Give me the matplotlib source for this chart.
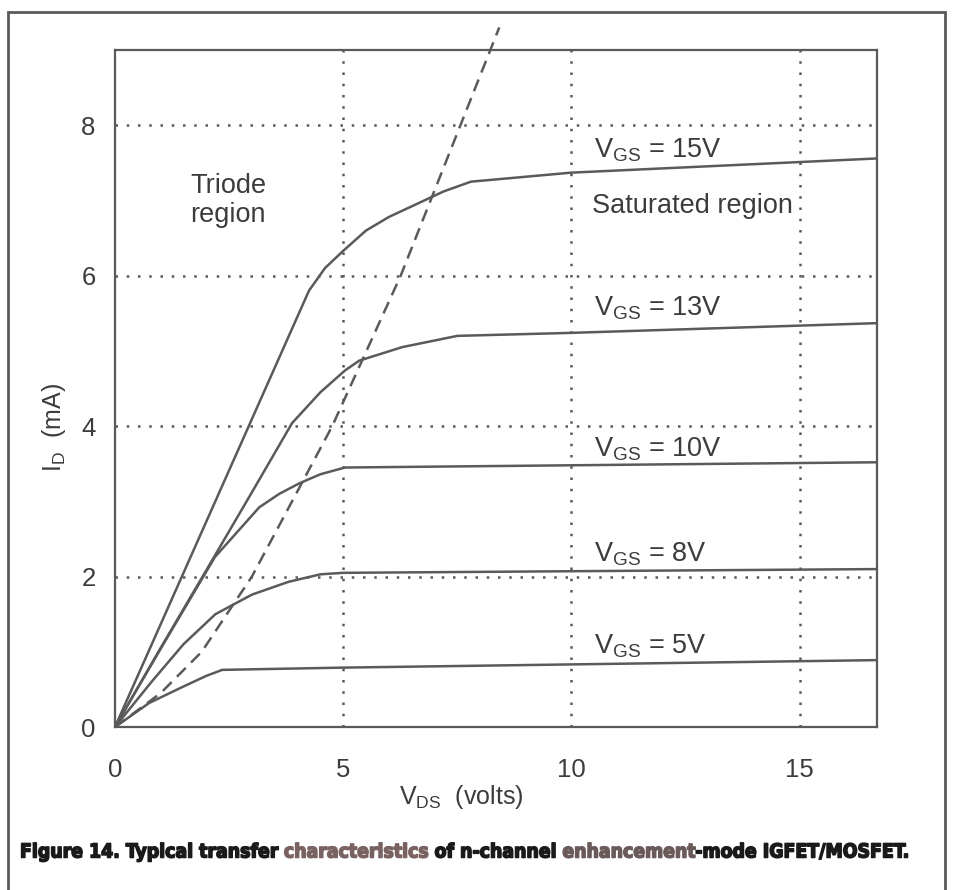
import numpy as np
import matplotlib
matplotlib.use("Agg")
import matplotlib.pyplot as plt
import matplotlib.patheffects as pe
from matplotlib import font_manager as fm
from matplotlib.patches import Rectangle

plt.rcParams['font.family'] = ['Liberation Sans', 'DejaVu Sans']
plt.rcParams['mathtext.default'] = 'regular'

# drain current curves, I_D (mA) against V_DS (V), one per gate voltage
vds_15 = [0, 4.25, 4.6, 5.0, 5.5, 6.0, 6.6, 7.2, 7.8, 10.0, 16.75]
id_15 = [0, 5.80, 6.10, 6.33, 6.60, 6.78, 6.95, 7.12, 7.25, 7.37, 7.56]

vds_13 = [0, 1.0, 1.91, 3.0, 3.88, 4.5, 5.04, 5.35, 6.29, 7.5, 10.0, 16.75]
id_13 = [0, 1.05, 1.99, 3.12, 4.04, 4.45, 4.74, 4.87, 5.05, 5.20, 5.24, 5.37]

vds_10 = [0, 1.0, 2.19, 3.16, 3.6, 4.04, 4.5, 5.04, 16.75]
id_10 = [0, 1.04, 2.26, 2.92, 3.10, 3.24, 3.36, 3.45, 3.52]

vds_8 = [0, 0.8, 1.5, 2.2, 3.0, 3.8, 4.5, 5.0, 16.75]
id_8 = [0, 0.60, 1.10, 1.50, 1.76, 1.93, 2.03, 2.05, 2.10]

vds_5 = [0, 0.75, 1.47, 2.0, 2.35, 5.0, 16.75]
id_5 = [0, 0.32, 0.53, 0.68, 0.76, 0.79, 0.89]

# boundary between triode and saturated regions
vds_sat = [0, 1.0, 1.9, 3.0, 4.76, 6.26, 8.42]
id_sat = [0, 0.45, 1.0, 2.0, 4.0, 6.0, 9.3]

curves = [(vds_15, id_15), (vds_13, id_13), (vds_10, id_10),
          (vds_8, id_8), (vds_5, id_5)]
vgs_labels = ['15V', '13V', '10V', '8V', '5V']
label_y = [7.57, 5.47, 3.60, 2.20, 0.98]

xticks = [0, 5, 10, 15]
yticks = [0, 2, 4, 6, 8]

ink = '#3c3c3c'
line_col = '#5a5a5a'

fig = plt.figure(figsize=(9.54, 8.9), dpi=100)
ax = fig.add_axes([0.1205, 0.1831, 0.799, 0.7607])
ax.set_xlim(0, 16.7)
ax.set_ylim(0, 9)

for vx, iy in curves:
    ax.plot(vx, iy, color=line_col, lw=1.8, solid_joinstyle='round')
ax.plot(vds_sat, id_sat, color=line_col, lw=1.8, linestyle=(0, (5, 3)),
        clip_on=False)

for v in xticks[1:]:
    ax.axvline(v, color=line_col, lw=1.8, linestyle=(0, (1, 3.5)))
for v in yticks[1:]:
    ax.axhline(v, color=line_col, lw=1.8, linestyle=(0, (1, 3.5)))

ax.set_xticks(xticks)
ax.set_yticks(yticks)
ax.tick_params(length=0, labelsize=18.5, labelcolor=ink)
ax.tick_params(axis='x', pad=22)
ax.tick_params(axis='y', pad=14)
for s in ax.spines.values():
    s.set_color(line_col)
    s.set_linewidth(1.6)

ax.set_xlabel('V$_{DS}$  (volts)', fontsize=18, color=ink)
ax.xaxis.set_label_coords(0.454, -0.083)
ax.set_ylabel('I$_{D}$  (mA)', fontsize=18, color=ink)
ax.yaxis.set_label_coords(-0.062, 0.442)

for lab, y in zip(vgs_labels, label_y):
    ax.text(10.5, y, 'V$_{GS}$ = ' + lab, fontsize=19.5, color=ink,
            ha='left', va='baseline')

ax.text(2.48, 7.0, 'Triode\nregion', fontsize=19.5, color=ink,
        ha='center', va='center', multialignment='center', linespacing=1.15)
ax.text(10.46, 6.93, 'Saturated region', fontsize=19.5, color=ink,
        ha='left', va='center')

# outer frame, open below the bottom edge
fig.add_artist(Rectangle((0.0084, -0.05), 0.9822, 1.0365,
                         transform=fig.transFigure, fill=False,
                         edgecolor=line_col, lw=2.0))

# caption, some words printed in a lighter ink
names = {f.name for f in fm.fontManager.ttflist}
if 'Liberation Sans Narrow' in names:
    cap_font = dict(family='Liberation Sans Narrow', weight='bold')
else:
    cap_font = dict(family='DejaVu Sans', weight='bold', stretch='condensed')

parts = [('Figure 14. Typical transfer ', '#1a1a1a'),
         ('characteristics', '#7a6262'),
         (' of n-channel ', '#1a1a1a'),
         ('enhancement', '#6a5a5a'),
         ('-mode IGFET/MOSFET.', '#1a1a1a')]


def put_caption(size):
    renderer = fig.canvas.get_renderer()
    x = 20
    objs = []
    for txt, col in parts:
        t = fig.text(x / 954, 1 - 852 / 890, txt, color=col, fontsize=size,
                     va='center', ha='left', **cap_font)
        t.set_path_effects([pe.withStroke(linewidth=1.1, foreground=col)])
        x = t.get_window_extent(renderer).x1
        objs.append(t)
    return objs, x - 20


size = 14.0
objs, width = put_caption(size)
for t in objs:
    t.remove()
size = size * 895 / width
put_caption(size)

fig.savefig('out.png', dpi=100)
